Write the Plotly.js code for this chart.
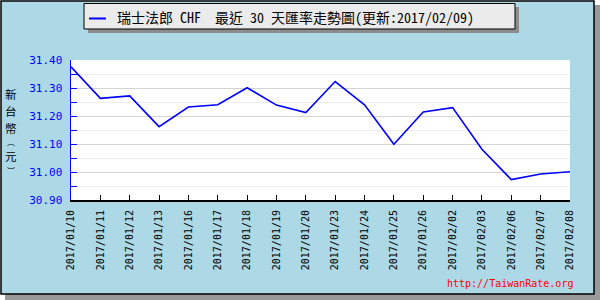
<!DOCTYPE html>
<html>
<head>
<meta charset="utf-8">
<script src="https://cdn.plot.ly/plotly-3.0.1.min.js"></script>
<style>html,body{margin:0;padding:0;background:#fff;}#chart{width:600px;height:300px;}</style>
</head>
<body>
<div id="chart"></div>
<script>
const dates = ['2017/01/10','2017/01/11','2017/01/12','2017/01/13','2017/01/16','2017/01/17','2017/01/18','2017/01/19','2017/01/20','2017/01/23','2017/01/24','2017/01/25','2017/01/26','2017/02/02','2017/02/03','2017/02/06','2017/02/07','2017/02/08'];
const rates = [31.376, 31.263, 31.272, 31.162, 31.232, 31.240, 31.301, 31.239, 31.212, 31.323, 31.240, 31.099, 31.214, 31.230, 31.081, 30.973, 30.993, 31.001];
const yTickVals = [30.9, 31.0, 31.1, 31.2, 31.3, 31.4];
const seriesName = '瑞士法郎 CHF  最近 30 天匯率走勢圖(更新:2017/02/09)';
const yTitleChars = ['新', '台', '幣', '︵', '元', '︶'];
const watermark = 'http://TaiwanRate.org';
const lineColor = '#0000ff';

const W = 600, H = 300, ML = 71, MR = 30, MT = 60, MB = 100;
const PW = W - ML - MR, PH = H - MT - MB;
const px = x => (x - ML) / PW;
const py = y => (H - MB - y) / PH;
const rect = (x0, y0, x1, y1, fill, line) => ({
  type: 'rect', xref: 'paper', yref: 'paper', layer: 'below',
  x0: px(x0), x1: px(x1), y0: py(y0), y1: py(y1),
  fillcolor: fill, line: line || {width: 0}
});

const mono = '"DejaVu Sans Mono", "Liberation Mono", monospace';

const trace = {
  x: dates, y: rates, type: 'scatter', mode: 'lines',
  line: {color: lineColor, width: 1.6}, name: seriesName, hoverinfo: 'none'
};

// vertical title: stacked characters, brackets smaller
const titleAnnots = [];
let cy = 94, prev = null;
yTitleChars.forEach(c => {
  const fs = (c === '︵' || c === '︶') ? 8 : 11.5;
  if (prev !== null) cy += 0.73 * (prev + fs);
  titleAnnots.push({
    xref: 'paper', yref: 'paper', x: px(11), y: py(cy), xanchor: 'center', yanchor: 'middle',
    showarrow: false, borderpad: 0, text: c,
    font: {family: '"Noto Sans CJK TC", sans-serif', size: fs, color: '#000'}
  });
  prev = fs;
});

const layout = {
  width: W, height: H,
  margin: {l: ML, r: MR, t: MT, b: MB, pad: 0},
  paper_bgcolor: '#ffffff', plot_bgcolor: 'rgba(0,0,0,0)',
  showlegend: false,
  xaxis: {
    type: 'category', range: [0, dates.length - 1], automargin: false,
    showgrid: false, zeroline: false,
    showline: true, linecolor: '#000', linewidth: 2,
    ticks: 'inside', ticklen: 5, tickcolor: '#000', tickwidth: 1,
    tickangle: -90, tickfont: {family: mono, size: 10, color: '#000'},
    ticklabelstandoff: 4
  },
  yaxis: {
    range: [30.9, 31.4], automargin: false,
    tickvals: yTickVals, tickformat: '.2f',
    showline: true, linecolor: lineColor, linewidth: 1.5,
    ticks: 'inside', ticklen: 6, tickcolor: lineColor, tickwidth: 1,
    gridcolor: '#d4d4d4', gridwidth: 1, zeroline: false,
    minor: {dtick: 0.05, ticks: 'inside', ticklen: 6, tickcolor: lineColor, showgrid: true, gridcolor: '#ececec', gridwidth: 1},
    tickfont: {family: mono, size: 11, color: lineColor},
    ticklabelstandoff: 5
  },
  shapes: [
    rect(5, 5, 600, 300, '#9a9a9a'),
    rect(1, 1, 594, 294, '#add8e6', {color: '#000', width: 1.5}),
    rect(ML, MT, ML + PW, MT + PH, '#ffffff'),
    rect(88, 7, 519, 33, '#8c8c8c'),
    rect(84, 3.5, 515, 29, '#ebebeb', {color: '#000', width: 1}),
    {type: 'line', xref: 'paper', yref: 'paper', x0: px(89), x1: px(106), y0: py(18.5), y1: py(18.5), line: {color: lineColor, width: 2}}
  ],
  annotations: [
    {xref: 'paper', yref: 'paper', x: px(115), y: py(17), xanchor: 'left', yanchor: 'middle', showarrow: false,
     text: seriesName, font: {family: '"Noto Sans Mono CJK TC", "Noto Sans CJK TC", sans-serif', size: 14, color: '#000'}},
    ...titleAnnots,
    {xref: 'paper', yref: 'paper', x: px(575), y: py(283), xanchor: 'right', yanchor: 'middle', showarrow: false,
     text: watermark, font: {family: mono, size: 10, color: '#ff0000'}}
  ]
};

Plotly.newPlot('chart', [trace], layout, {staticPlot: true, displayModeBar: false});
</script>
</body>
</html>
